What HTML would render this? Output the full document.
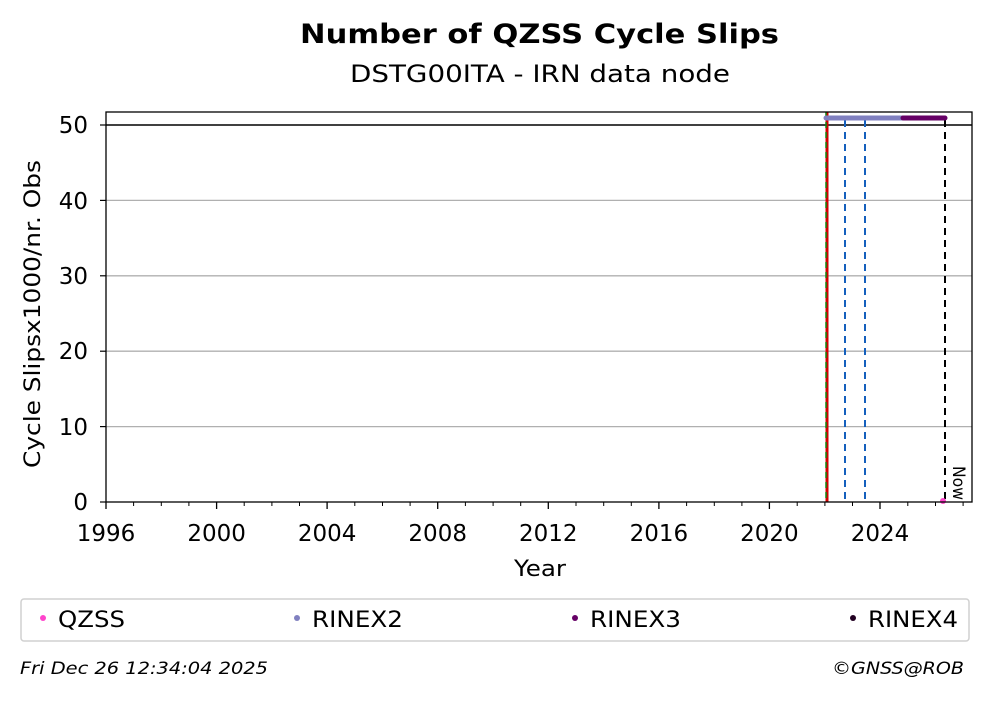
<!DOCTYPE html>
<html><head><meta charset="utf-8"><style>
body{margin:0;background:#fff;}
svg text{font-family:"DejaVu Sans","Liberation Sans",sans-serif;}
</style></head><body>
<svg width="992" height="699" viewBox="0 0 992 699" xmlns="http://www.w3.org/2000/svg">
<text x="300" y="43" font-size="27" font-weight="bold" textLength="479" lengthAdjust="spacingAndGlyphs">Number of QZSS Cycle Slips</text>
<text x="350" y="82" font-size="24" textLength="380" lengthAdjust="spacingAndGlyphs">DSTG00ITA - IRN data node</text>
<g stroke="#b0b0b0" stroke-width="1.3">
<line x1="106" x2="972" y1="426.6" y2="426.6"/>
<line x1="106" x2="972" y1="351.2" y2="351.2"/>
<line x1="106" x2="972" y1="275.8" y2="275.8"/>
<line x1="106" x2="972" y1="200.4" y2="200.4"/>
</g>
<line x1="106" x2="972" y1="125" y2="125" stroke="#000" stroke-width="1.5"/>
<line x1="827" x2="827" y1="112" y2="502" stroke="#d00000" stroke-width="3"/>
<line x1="826" x2="826" y1="112" y2="502" stroke="#118811" stroke-width="1.5" stroke-dasharray="6,4"/>
<g stroke="#1560bd" stroke-width="2" stroke-dasharray="7,5">
<line x1="845" x2="845" y1="120" y2="502"/>
<line x1="865" x2="865" y1="120" y2="502"/>
</g>
<line x1="945" x2="945" y1="120" y2="502" stroke="#000" stroke-width="2" stroke-dasharray="7,5"/>
<line x1="826" x2="903" y1="118" y2="118" stroke="#8080c0" stroke-width="5" stroke-linecap="round"/>
<line x1="903" x2="945" y1="118" y2="118" stroke="#660066" stroke-width="5" stroke-linecap="round"/>
<circle cx="943" cy="501" r="3" fill="#ff44cc"/>
<text x="0" y="0" font-size="17" transform="translate(953,466) rotate(90)" textLength="34" lengthAdjust="spacingAndGlyphs">Now</text>
<rect x="106" y="112" width="866" height="390" fill="none" stroke="#000" stroke-width="1.3"/>
<g stroke="#000" stroke-width="1.2">
<line x1="100" x2="106" y1="502" y2="502"/><line x1="100" x2="106" y1="426.6" y2="426.6"/><line x1="100" x2="106" y1="351.2" y2="351.2"/><line x1="100" x2="106" y1="275.8" y2="275.8"/><line x1="100" x2="106" y1="200.4" y2="200.4"/><line x1="100" x2="106" y1="125" y2="125"/>
</g>
<g font-size="23" text-anchor="end">
<text x="88" y="510">0</text><text x="88" y="435">10</text><text x="88" y="359">20</text><text x="88" y="284">30</text><text x="88" y="209">40</text><text x="88" y="133">50</text>
</g>
<g stroke="#000" stroke-width="1">
<line x1="133.6" x2="133.6" y1="502" y2="506"/><line x1="161.3" x2="161.3" y1="502" y2="506"/><line x1="188.9" x2="188.9" y1="502" y2="506"/>
<line x1="244.2" x2="244.2" y1="502" y2="506"/><line x1="271.9" x2="271.9" y1="502" y2="506"/><line x1="299.5" x2="299.5" y1="502" y2="506"/>
<line x1="354.8" x2="354.8" y1="502" y2="506"/><line x1="382.5" x2="382.5" y1="502" y2="506"/><line x1="410.1" x2="410.1" y1="502" y2="506"/>
<line x1="465.4" x2="465.4" y1="502" y2="506"/><line x1="493.1" x2="493.1" y1="502" y2="506"/><line x1="520.7" x2="520.7" y1="502" y2="506"/>
<line x1="576" x2="576" y1="502" y2="506"/><line x1="603.7" x2="603.7" y1="502" y2="506"/><line x1="631.3" x2="631.3" y1="502" y2="506"/>
<line x1="686.6" x2="686.6" y1="502" y2="506"/><line x1="714.3" x2="714.3" y1="502" y2="506"/><line x1="741.9" x2="741.9" y1="502" y2="506"/>
<line x1="797.2" x2="797.2" y1="502" y2="506"/><line x1="824.9" x2="824.9" y1="502" y2="506"/><line x1="852.5" x2="852.5" y1="502" y2="506"/>
<line x1="907.8" x2="907.8" y1="502" y2="506"/><line x1="935.5" x2="935.5" y1="502" y2="506"/><line x1="963.1" x2="963.1" y1="502" y2="506"/>
</g>
<g stroke="#000" stroke-width="1.3">
<line x1="106" x2="106" y1="502" y2="509"/><line x1="216.6" x2="216.6" y1="502" y2="509"/><line x1="327.1" x2="327.1" y1="502" y2="509"/><line x1="437.7" x2="437.7" y1="502" y2="509"/><line x1="548.3" x2="548.3" y1="502" y2="509"/><line x1="658.9" x2="658.9" y1="502" y2="509"/><line x1="769.4" x2="769.4" y1="502" y2="509"/><line x1="880" x2="880" y1="502" y2="509"/>
</g>
<g font-size="23" text-anchor="middle">
<text x="106" y="541">1996</text><text x="216.6" y="541">2000</text><text x="327.1" y="541">2004</text><text x="437.7" y="541">2008</text><text x="548.3" y="541">2012</text><text x="658.9" y="541">2016</text><text x="769.4" y="541">2020</text><text x="880" y="541">2024</text>
</g>
<text x="514" y="576" font-size="22" textLength="52" lengthAdjust="spacingAndGlyphs">Year</text>
<text x="0" y="0" font-size="22" transform="translate(40,468) rotate(-90)" textLength="308" lengthAdjust="spacingAndGlyphs">Cycle Slipsx1000/nr. Obs</text>
<rect x="21" y="599" width="948" height="42" rx="3" fill="#fff" stroke="#d0d0d0" stroke-width="1.5"/>
<g font-size="22">
<circle cx="43" cy="618" r="3" fill="#ff44cc"/><text x="58" y="627" textLength="67" lengthAdjust="spacingAndGlyphs">QZSS</text>
<circle cx="297" cy="618" r="3" fill="#8080c0"/><text x="312" y="627" textLength="91" lengthAdjust="spacingAndGlyphs">RINEX2</text>
<circle cx="575" cy="618" r="3" fill="#660066"/><text x="590" y="627" textLength="91" lengthAdjust="spacingAndGlyphs">RINEX3</text>
<circle cx="853" cy="618" r="3" fill="#220022"/><text x="868" y="627" textLength="90" lengthAdjust="spacingAndGlyphs">RINEX4</text>
</g>
<text x="20" y="674" font-size="17" font-style="italic" textLength="248" lengthAdjust="spacingAndGlyphs">Fri Dec 26 12:34:04 2025</text>
<text x="832" y="674" font-size="17" font-style="italic" textLength="132" lengthAdjust="spacingAndGlyphs">©GNSS@ROB</text>
</svg>
</body></html>
